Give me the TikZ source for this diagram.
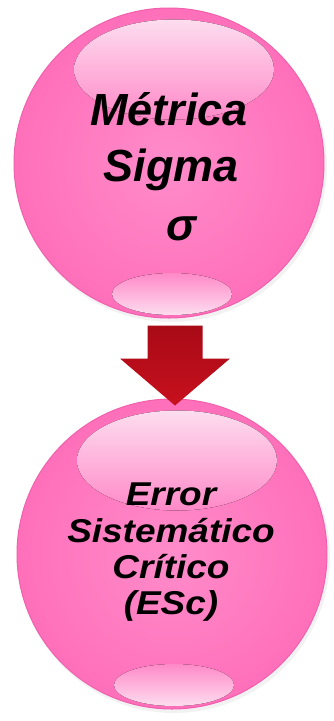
\documentclass[tikz,border=0pt]{standalone}
\usepackage{fontspec}
\setmainfont{Liberation Sans}
\usetikzlibrary{calc}
\definecolor{pinkin}{HTML}{FF8CCA}
\definecolor{pinkout}{HTML}{FF6FBA}
\definecolor{pinkrim}{HTML}{F060AC}
\definecolor{pinklight}{HTML}{FDDDEF}
\definecolor{arrowdark}{HTML}{A80A16}
\definecolor{arrowred}{HTML}{C8101E}
\tikzset{
  ball/.style={circle, draw=pinkrim, line width=1pt, inner sep=0pt,
    inner color=pinkin, outer color=pinkout},
  hilite/.style={draw=none, top color=pinklight, bottom color=pinkin!90!pinkout},
  hilitelow/.style={draw=none, top color=pinkin!90!pinkout, bottom color=pinklight},
  bigtxt/.style={anchor=base, inner sep=0pt, font=\fontsize{45}{54}\selectfont\bfseries\itshape},
  smalltxt/.style={anchor=base, inner sep=0pt, xscale=1.12, font=\fontsize{33}{37}\selectfont\bfseries\itshape},
}
\begin{document}
\begin{tikzpicture}[x=1pt,y=-1pt]
\useasboundingbox (0,0) rectangle (334,721);
\fill[white] (0,0) rectangle (334,721);
% soft shadows
\fill[black, opacity=0.05] (171,166) circle (156pt);
\fill[black, opacity=0.05] (174,557) circle (156pt);
% balls
\node[ball, minimum size=310pt] (m) at (169,163) {};
\node[ball, minimum size=310pt] (e) at (172,554) {};
% highlights
\fill[hilite] ($(m.north)+(5,62)$) ellipse (100pt and 50pt);
\fill[hilitelow] ($(m.center)+(3,131)$) ellipse (60pt and 21pt);
\fill[hilite] ($(e.north)+(5,62)$) ellipse (100pt and 50pt);
\fill[hilitelow] ($(e.center)+(2,131)$) ellipse (60pt and 21pt);
% texts
\node[bigtxt] (t1) at (169,125) {Métrica};
\node[bigtxt] (t1b) at (171,181) {Sigma};
\node[bigtxt] (t2) at (181,240) {σ};
\node[smalltxt] (t3) at (171,505) {Error};
\node[smalltxt] (t3b) at (171,542) {Sistemático};
\node[smalltxt] (t3c) at (171,578) {Crítico};
\node[smalltxt] (t3d) at (171,614) {(ESc)};
% block arrow
\coordinate (a0) at ($(m.south)+(6,7)$);
\coordinate (tip) at ($(e.north)+(3,7)$);
\shade[top color=arrowdark, bottom color=arrowred, draw=none]
  ($(a0)+(-27.5,0)$) -- ($(a0)+(27.5,0)$) -- ($(a0)+(27.5,33)$) -- ($(a0)+(55,33)$)
  -- (tip) -- ($(a0)+(-55,33)$) -- ($(a0)+(-27.5,33)$) -- cycle;
\end{tikzpicture}
\end{document}
